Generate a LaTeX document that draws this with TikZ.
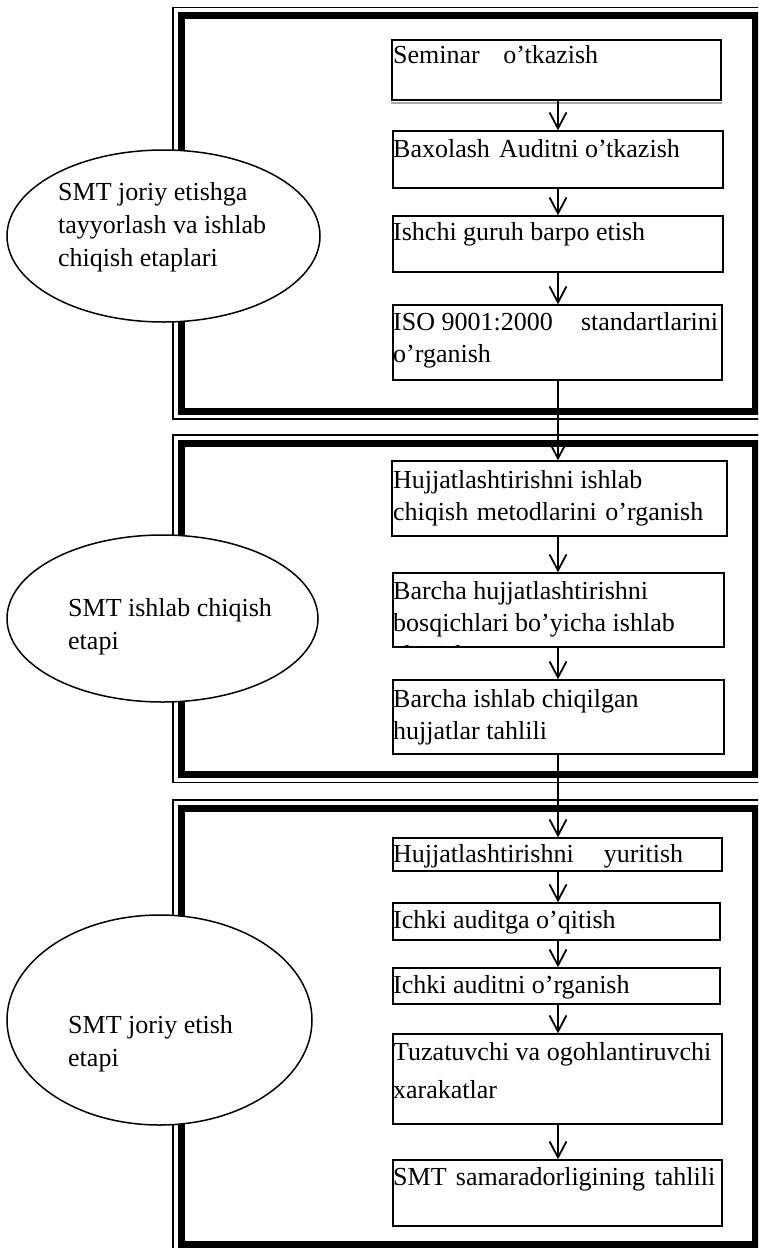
\documentclass[tikz,border=0pt]{standalone}
\usepackage{fontspec}
\setmainfont{Liberation Serif}
\usetikzlibrary{arrows.meta,fit,shapes.geometric}
\newcommand\tf{\fontsize{26}{32}\selectfont}
\newcommand\ef{\fontsize{26}{33}\selectfont}
\newcommand\gap{\hspace{0.35em}}
% a line spread to a given width
\newcommand\spread[2]{\makebox[#1pt][s]{#2}}
% two parts pushed to the two sides of a given width
\newcommand\twoside[3]{\makebox[#1pt][l]{#2\hfill #3}}

\begin{document}
\begin{tikzpicture}[x=1pt,y=-1pt,
  box/.style={draw, line width=1.4pt, fill=white, inner sep=0pt},
  oval/.style={draw, ellipse, line width=1.5pt, fill=white, inner sep=0pt},
  txt/.style={anchor=north west, inner sep=0pt, align=left, font=\tf},
  etxt/.style={anchor=north west, inner sep=0pt, align=left, font=\ef},
  thinframe/.style={line width=1.5pt},
  thickframe/.style={line width=7pt},
  arr/.style={line width=1.8pt, -{Straight Barb[length=16pt,width=17pt,line width=1.8pt]}}]

\useasboundingbox (0,0) rectangle (758,1248);
\clip (0,0) rectangle (758,1248);

% stage frames: thin outer line, thick inner line
\draw[thinframe]  (173,7.5)   rectangle (763.5,419);
\draw[thickframe] (181,15.5)  rectangle (755.5,411);
\draw[thinframe]  (173,435)   rectangle (763.5,782.5);
\draw[thickframe] (181,443.5) rectangle (755.5,774.5);
\draw[thinframe]  (173,800)   rectangle (763.5,1252.5);
\draw[thickframe] (181,808.5) rectangle (755.5,1244.5);

% stage labels
\node[oval, minimum width=313, minimum height=172] (e1) at (163.5,236) {};
\node[etxt] (e1t) at (58,{200-23.1}) {\strut SMT joriy etishga\\tayyorlash va ishlab\\chiqish etaplari};
\node[oval, minimum width=311, minimum height=167] (e2) at (162.5,618.5) {};
\node[etxt] (e2t) at (68,{616-23.1}) {\strut SMT ishlab chiqish\\etapi};
\node[oval, minimum width=305, minimum height=210] (e3) at (159.5,1020) {};
\node[etxt] (e3t) at (68,{1033-23.1}) {\strut SMT joriy etish\\etapi};

% steps of stage 1
\node[box, fit={(392,40) (721,100)}] (b1) {};
\draw[gray!70, line width=2pt] ([yshift=-2pt]b1.south west) -- ([yshift=-2pt]b1.south east);
\node[txt] (b1t) at (393,{63-22.4}) {\strut\twoside{205}{Seminar}{o’tkazish}};
\node[box, fit={(393,131) (723,188)}] (b2) {};
\node[txt] (b2t) at (393,{157-22.4}) {\strut Baxolash\gap Auditni o’tkazish};
\node[box, fit={(393,216) (723,272)}] (b3) {};
\node[txt] (b3t) at (393,{240-22.4}) {\strut Ishchi guruh barpo etish};
\node[box, fit={(393,305) (722,380)}] (b4) {};
\node[txt] (b4t) at (393,{330-22.4}) {\strut\twoside{325}{ISO 9001:2000}{standartlarini}\\o’rganish};

% steps of stage 2
\node[box, fit={(392,461) (727,536)}] (b5) {};
\node[txt] (b5t) at (393,{488-22.4}) {\strut Hujjatlashtirishni ishlab\\\spread{310}{chiqish metodlarini o’rganish}};
\node[box, fit={(393,573) (724,647)}] (b6) {};
\begin{scope}
  \clip (b6.north west) rectangle (b6.south east);
  \node[txt] (b6t) at (393,{599-22.4}) {\strut Barcha hujjatlashtirishni\\bosqichlari bo’yicha ishlab\\chiqish};
\end{scope}
\draw[line width=1.4pt] (b6.north west) rectangle (b6.south east);
\node[box, fit={(393,680) (724,754)}] (b7) {};
\node[txt] (b7t) at (393,{707-22.4}) {\strut Barcha ishlab chiqilgan\\hujjatlar tahlili};

% steps of stage 3
\node[box, fit={(393,838) (722,871)}] (b8) {};
\node[txt] (b8t) at (393,{862-22.4}) {\strut\twoside{290}{Hujjatlashtirishni}{yuritish}};
\node[box, fit={(393,903) (720,940)}] (b9) {};
\node[txt] (b9t) at (393,{928-22.4}) {\strut Ichki auditga o’qitish};
\node[box, fit={(393,968) (720,1004)}] (b10) {};
\node[txt] (b10t) at (393,{993-22.4}) {\strut Ichki auditni o’rganish};
\node[box, fit={(393,1034) (722,1124)}] (b11) {};
\node[txt] (b11t) at (393,{1060-22.4}) {\strut Tuzatuvchi va ogohlantiruvchi\\[6pt]xarakatlar};
\node[box, fit={(393,1160) (722,1226)}] (b12) {};
\node[txt] (b12t) at (393,{1185-22.4}) {\strut\spread{322}{SMT samaradorligining tahlili}};

% flow arrows
\coordinate (ax) at (558,0);
\draw[arr] (b1.south -| ax) -- (b2.north -| ax);
\draw[arr] (b2.south -| ax) -- (b3.north -| ax);
\draw[arr] (b3.south -| ax) -- (b4.north -| ax);
\draw[arr] (b4.south -| ax) -- (b5.north -| ax);
\draw[arr] (b5.south -| ax) -- (b6.north -| ax);
\draw[arr] (b6.south -| ax) -- (b7.north -| ax);
\draw[arr] (b7.south -| ax) -- (b8.north -| ax);
\draw[arr] (b8.south -| ax) -- (b9.north -| ax);
\draw[arr] (b9.south -| ax) -- (b10.north -| ax);
\draw[arr] (b10.south -| ax) -- (b11.north -| ax);
\draw[arr] (b11.south -| ax) -- (b12.north -| ax);
\end{tikzpicture}
\end{document}
